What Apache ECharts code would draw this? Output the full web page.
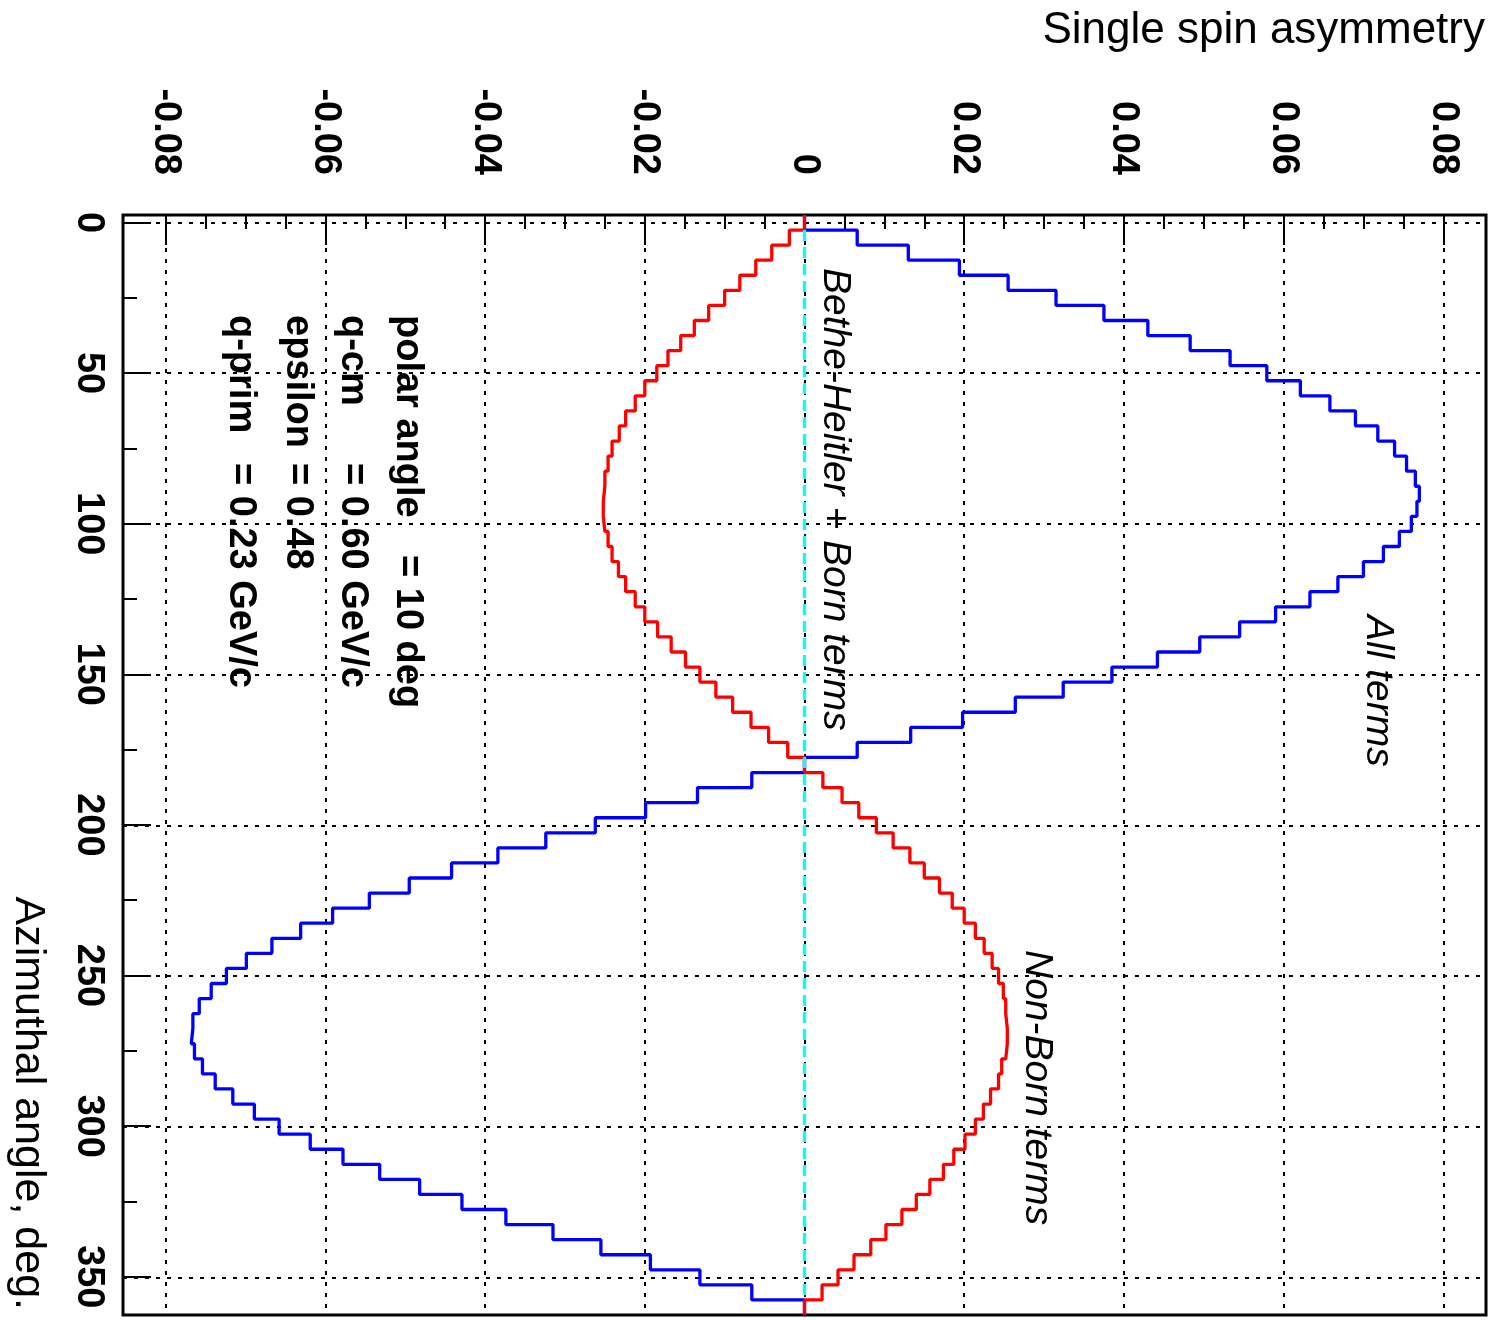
<!DOCTYPE html>
<html lang="en">
<head>
<meta charset="UTF-8">
<title>Single spin asymmetry</title>
<style>
  html, body { margin: 0; padding: 0; background: #fff; }
  #main { width: 1496px; height: 1320px; }
</style>
<script src="https://cdn.jsdelivr.net/npm/echarts@6/dist/echarts.min.js"></script>
</head>
<body>
<div id="main"></div>
<script>
// histogram bins, deg (5 deg wide, centred on the values below)
var binCentres = [0, 5, 10, 15, 20, 25, 30, 35, 40, 45, 50, 55, 60, 65, 70, 75, 80, 85, 90, 95,
  100, 105, 110, 115, 120, 125, 130, 135, 140, 145, 150, 155, 160, 165, 170, 175, 180, 185, 190, 195,
  200, 205, 210, 215, 220, 225, 230, 235, 240, 245, 250, 255, 260, 265, 270, 275, 280, 285, 290, 295,
  300, 305, 310, 315, 320, 325, 330, 335, 340, 345, 350, 355, 360];
var binWidth = 5;

// All terms (blue)
var allTerms = [0, 0.0066, 0.0130, 0.0194, 0.0255, 0.0315, 0.0375, 0.0430, 0.0483, 0.0533,
  0.0579, 0.0621, 0.0658, 0.0690, 0.0718, 0.0739, 0.0754, 0.0765, 0.0770, 0.0767,
  0.0760, 0.0745, 0.0725, 0.0700, 0.0668, 0.0633, 0.0590, 0.0545, 0.0495, 0.0442,
  0.0385, 0.0324, 0.0264, 0.0198, 0.0133, 0.0066, 0,
  -0.0066, -0.0134, -0.0199, -0.0262, -0.0324, -0.0384, -0.0442, -0.0495, -0.0545,
  -0.0591, -0.0631, -0.0667, -0.0699, -0.0724, -0.0743, -0.0758, -0.0766, -0.0768, -0.0764,
  -0.0754, -0.0738, -0.0716, -0.0689, -0.0658, -0.0619, -0.0578, -0.0532, -0.0482, -0.0429,
  -0.0374, -0.0315, -0.0255, -0.0193, -0.0131, -0.0066, 0];

// Non-Born terms (red)
var nonBorn = [0, -0.0019, -0.0041, -0.0061, -0.0081, -0.0100, -0.0120, -0.0138, -0.0155, -0.0171,
  -0.0185, -0.0200, -0.0212, -0.0224, -0.0232, -0.0241, -0.0246, -0.0250, -0.0252, -0.0252,
  -0.0250, -0.0246, -0.0241, -0.0233, -0.0224, -0.0212, -0.0200, -0.0184, -0.0167, -0.0149,
  -0.0131, -0.0111, -0.0090, -0.0067, -0.0045, -0.0021, 0,
  0.0023, 0.0047, 0.0068, 0.0090, 0.0111, 0.0132, 0.0150, 0.0169, 0.0185,
  0.0200, 0.0214, 0.0225, 0.0235, 0.0243, 0.0249, 0.0252, 0.0254, 0.0254, 0.0252,
  0.0247, 0.0243, 0.0233, 0.0224, 0.0214, 0.0201, 0.0187, 0.0174, 0.0157, 0.0140,
  0.0122, 0.0102, 0.0083, 0.0062, 0.0042, 0.0022, 0];

// Bethe-Heitler + Born terms (cyan, zero)
var bhBorn = [null, 0, 0, 0, 0, 0, 0, 0, 0, 0, 0, 0, 0, 0, 0, 0, 0, 0, 0, 0,
  0, 0, 0, 0, 0, 0, 0, 0, 0, 0, 0, 0, 0, 0, 0, 0, 0, 0, 0, 0,
  0, 0, 0, 0, 0, 0, 0, 0, 0, 0, 0, 0, 0, 0, 0, 0, 0, 0, 0, 0,
  0, 0, 0, 0, 0, 0, 0, 0, 0, 0, 0, 0, null];

var asymTicks = [-0.08, -0.06, -0.04, -0.02, 0, 0.02, 0.04, 0.06, 0.08];
var angleTicks = [0, 50, 100, 150, 200, 250, 300, 350];

var paramNames = ['polar angle', 'q-cm', 'epsilon', 'q-prim'];
var paramValues = ['= 10 deg', '= 0.60 GeV/c', '= 0.48', '= 0.23 GeV/c'];

var FONT = '"Liberation Sans", Arial, Helvetica, sans-serif';

// histogram outline: each bin gives two points (low edge, high edge)
function stepPoints(vals) {
    var pts = [];
    for (var i = 0; i < vals.length; i++) {
        if (vals[i] === null) continue;
        pts.push([vals[i], binCentres[i] - binWidth / 2]);
        pts.push([vals[i], binCentres[i] + binWidth / 2]);
    }
    return pts;
}

function histSeries(name, vals, color, z, dashed) {
    return {
        name: name,
        type: 'line',
        xAxisIndex: 0,
        yAxisIndex: 0,
        data: stepPoints(vals),
        showSymbol: false,
        symbol: 'none',
        z: z,
        lineStyle: { color: color, width: 3.3, type: dashed ? [11, 6] : 'solid' }
    };
}

var gridLines = [];
asymTicks.forEach(function (v) { gridLines.push({ xAxis: v }); });
angleTicks.forEach(function (v) { gridLines.push({ yAxis: v }); });

var graphics = [
    {
        type: 'text', x: 1485, y: 31,
        style: { text: 'Single spin asymmetry', font: '44px ' + FONT, fill: '#000',
                 textAlign: 'right', textVerticalAlign: 'middle' }
    },
    {
        type: 'text', x: 28, y: 1310, rotation: -Math.PI / 2,
        style: { text: 'Azimuthal angle, deg.', font: '43px ' + FONT, fill: '#000',
                 textAlign: 'right', textVerticalAlign: 'middle' }
    },
    {
        type: 'text', x: 835, y: 268, rotation: -Math.PI / 2,
        style: { text: 'Bethe-Heitler + Born terms', font: 'italic 39px ' + FONT, fill: '#000',
                 textAlign: 'left', textVerticalAlign: 'middle' }
    },
    {
        type: 'text', x: 1378, y: 615, rotation: -Math.PI / 2,
        style: { text: 'All terms', font: 'italic 39px ' + FONT, fill: '#000',
                 textAlign: 'left', textVerticalAlign: 'middle' }
    },
    {
        type: 'text', x: 1037, y: 950, rotation: -Math.PI / 2,
        style: { text: 'Non-Born terms', font: 'italic 39px ' + FONT, fill: '#000',
                 textAlign: 'left', textVerticalAlign: 'middle' }
    }
];

var paramX = [407, 352, 297, 240];
var valueY = [555, 463, 463, 463];
for (var i = 0; i < paramNames.length; i++) {
    graphics.push({
        type: 'text', x: paramX[i], y: 315, rotation: -Math.PI / 2,
        style: { text: paramNames[i], font: 'bold 38px ' + FONT, fill: '#000',
                 textAlign: 'left', textVerticalAlign: 'middle' }
    });
    graphics.push({
        type: 'text', x: paramX[i], y: valueY[i], rotation: -Math.PI / 2,
        style: { text: paramValues[i], font: 'bold 38px ' + FONT, fill: '#000',
                 textAlign: 'left', textVerticalAlign: 'middle' }
    });
}

var tickStyle = { color: '#000', width: 2 };
var labelStyle = { color: '#000', fontFamily: FONT, fontWeight: 'bold', fontSize: 38 };

var myChart = echarts.init(document.getElementById('main'));
var option = {
    animation: false,
    backgroundColor: '#fff',
    grid: [
        // frame, data coordinates
        { left: 123, right: 10, top: 215, bottom: 5, show: true,
          borderColor: '#000', borderWidth: 3, backgroundColor: 'transparent' },
        // inner box spanning the labelled ticks only
        { left: 165.7, right: 52.7, top: 222.5, bottom: 43.3 }
    ],
    xAxis: [
        { gridIndex: 0, type: 'value', min: -0.08535, max: 0.08535, show: false },
        {
            gridIndex: 1, type: 'value', position: 'top', offset: 7.5,
            min: -0.08, max: 0.08, interval: 0.02,
            axisLine: { show: false, onZero: false },
            axisTick: { show: true, inside: true, length: 30, lineStyle: tickStyle },
            minorTick: { show: true, splitNumber: 4, length: 14, lineStyle: tickStyle },
            splitLine: { show: false },
            // labels drawn below as rotated graphic text (clockwise)
            axisLabel: { show: false }
        }
    ],
    yAxis: [
        { gridIndex: 0, type: 'value', inverse: true, min: -2.5, max: 362.5, show: false },
        {
            gridIndex: 1, type: 'value', position: 'left', offset: 42.7, inverse: true,
            min: 0, max: 350, interval: 50,
            axisLine: { show: false, onZero: false },
            axisTick: { show: true, inside: true, length: 28, lineStyle: tickStyle },
            minorTick: { show: true, splitNumber: 2, length: 14, lineStyle: tickStyle },
            splitLine: { show: false },
            axisLabel: Object.assign({ rotate: -90, margin: 16 }, labelStyle)
        }
    ],
    graphic: graphics,
    series: [
        {
            name: 'grid', type: 'line', xAxisIndex: 0, yAxisIndex: 0, data: [], z: 1,
            markLine: {
                z: 1,
                silent: true, symbol: ['none', 'none'], label: { show: false },
                lineStyle: { color: '#000', width: 2, type: [4, 7] },
                emphasis: { disabled: true },
                data: gridLines
            }
        },
        histSeries('All terms', allTerms, '#0000ff', 2, false),
        histSeries('Non-Born terms', nonBorn, '#ff0000', 3, false),
        histSeries('Bethe-Heitler + Born terms', bhBorn, '#00ffff', 4, true)
    ]
};
myChart.setOption(option);

// asymmetry tick labels, placed through the axis scale
asymTicks.forEach(function (v) {
    var px = myChart.convertToPixel({ xAxisIndex: 1 }, v);
    graphics.push({
        type: 'text', x: px, y: 175, rotation: -Math.PI / 2,
        style: { text: v === 0 ? '0' : v.toFixed(2), font: 'bold 38px ' + FONT, fill: '#000',
                 textAlign: 'right', textVerticalAlign: 'middle' }
    });
});
myChart.setOption({ graphic: graphics });
</script>
</body>
</html>
